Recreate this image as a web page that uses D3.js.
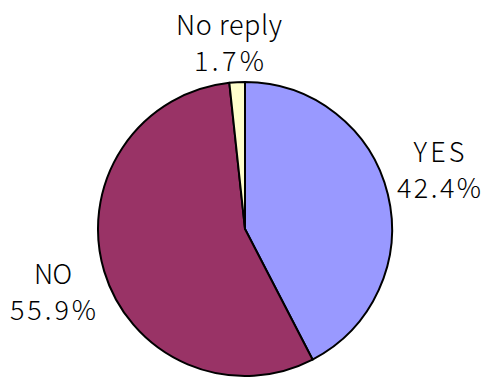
<!DOCTYPE html>
<html>
<head>
<meta charset="utf-8">
<script src="https://cdn.jsdelivr.net/npm/d3@7"></script>
<style>
  html, body { margin: 0; padding: 0; background: #fff; }
  svg { display: block; }
  text { font-family: "Noto Sans CJK KR", "DejaVu Sans", sans-serif; font-size: 27px; font-weight: 300; fill: #000; }
</style>
</head>
<body>
<script>
// Survey answers and their shares (%)
const categories = ["YES", "NO", "No reply"];
const values = [42.4, 55.9, 1.7];
const colors = ["#9999FF", "#993366", "#FFFFCC"];

const width = 488, height = 378;
const cx = 245, cy = 229, radius = 147;

const svg = d3.select("body").append("svg")
  .attr("width", width).attr("height", height);

const pie = d3.pie().sort(null).value(d => d.value);
const arc = d3.arc().innerRadius(0).outerRadius(radius);

const data = categories.map((c, i) => ({ name: c, value: values[i], color: colors[i] }));
const arcs = pie(data);

const g = svg.append("g").attr("transform", `translate(${cx},${cy})`);

g.selectAll("path")
  .data(arcs)
  .join("path")
  .attr("d", arc)
  .attr("fill", d => d.data.color)
  .attr("stroke", "#000")
  .attr("stroke-width", 2)
  .attr("stroke-linejoin", "round");

// Two-line labels (name, percentage) beside each slice
const labelPos = {
  "YES":      { x: 439, y: 162, w1: 51, w2: 84 },
  "NO":       { x: 53,  y: 284, w1: 38, w2: 86 },
  "No reply": { x: 229, y: 35,  w1: 106, w2: 70 }
};
const lineGap = 36;

arcs.forEach(a => {
  const p = labelPos[a.data.name];
  const t = svg.append("text").attr("text-anchor", "middle");
  t.append("tspan").attr("x", p.x).attr("y", p.y)
    .attr("textLength", p.w1).attr("lengthAdjust", "spacing")
    .text(a.data.name);
  t.append("tspan").attr("x", p.x).attr("y", p.y + lineGap)
    .attr("textLength", p.w2).attr("lengthAdjust", "spacing")
    .text(d3.format(".1f")(a.data.value) + "%");
});
</script>
</body>
</html>
